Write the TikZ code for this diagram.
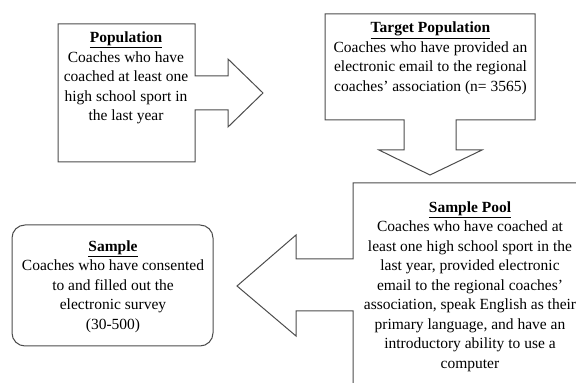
\documentclass[tikz,border=0pt]{standalone}
\usepackage{fontspec}
\setmainfont{Liberation Serif}
\tikzset{
  callout/.style={draw=black!70, line width=1pt, line join=miter},
  boxtext/.style={align=center, inner sep=0pt, font=\fontsize{15.5}{19.5}\selectfont}
}
\newcommand{\boxtitle}[1]{\underline{\textbf{#1}}}
\begin{document}
\begin{tikzpicture}[x=1pt,y=1pt]
                \useasboundingbox (0,0) rectangle (576,383);
                \clip (0,0) rectangle (576,383);
                % population box with arrow to the right
                \draw[callout] (58,359) -- (195,359) -- (195,307) -- (228,307) -- (228,324) -- (263,290)
                    -- (228,256) -- (228,273) -- (195,273) -- (195,221) -- (58,221) -- cycle;
                % target population box with arrow down
                \draw[callout] (325,369) -- (535,369) -- (535,263) -- (456,263) -- (456,233) -- (482,233)
                    -- (430,208) -- (379,233) -- (404,233) -- (404,263) -- (325,263) -- cycle;
                % sample pool box with arrow to the left
                \draw[callout] (353,-10) -- (353,72) -- (296,72) -- (296,47) -- (237,97) -- (296,148)
                    -- (296,124) -- (353,124) -- (353,200) -- (600,200);
                % sample box
                \draw[callout, rounded corners=13pt] (12,37) rectangle (213,158);
                \node[boxtext] (population) at (126,305) {\boxtitle{Population}\\Coaches who have\\coached at least one\\high school sport in\\the last year};
                \node[boxtext] (target) at (430.5,324.5) {\boxtitle{Target Population}\\Coaches who have provided an\\electronic email to the regional\\coaches' association (n= 3565)};
                \node[boxtext] (pool) at (470,96.5) {\boxtitle{Sample Pool}\\Coaches who have coached at\\least one high school sport in the\\last year, provided electronic\\email to the regional coaches'\\association, speak English as their\\primary language, and have an\\introductory ability to use a\\computer};
                \node[boxtext] (sample) at (113,96.5) {\boxtitle{Sample}\\Coaches who have consented\\to and filled out the\\electronic survey\\(30-500)};
            \end{tikzpicture}
\end{document}
